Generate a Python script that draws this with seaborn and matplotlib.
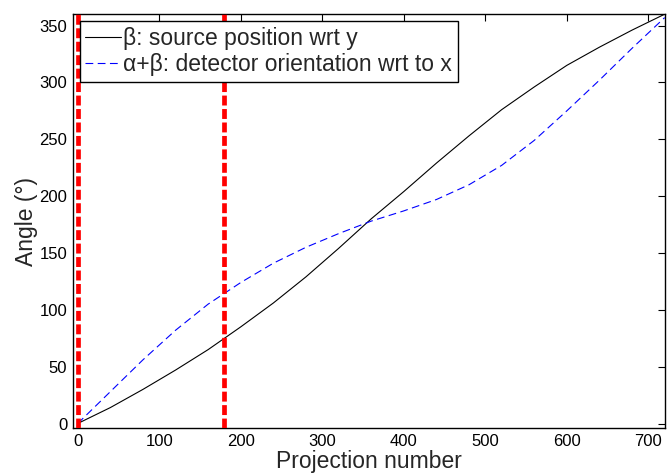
import matplotlib
matplotlib.use("Agg")
import matplotlib.pyplot as plt
import seaborn as sns
import pandas as pd

# Data
proj = [0, 40, 80, 120, 160, 200, 240, 280, 320, 360, 400, 440, 480, 520, 560, 600, 640, 680, 720]
beta = [0, 14, 30, 47, 65, 85, 106, 129, 154, 180, 204, 229, 253, 276, 296, 315, 331, 346, 360]
alpha_beta = [0, 28, 56, 82, 105, 124, 141, 155, 167, 178, 187, 197, 210, 227, 249, 275, 302, 330, 357]
vlines_x = [0, 180]
xticks = [0, 100, 200, 300, 400, 500, 600, 700]
yticks = [0, 50, 100, 150, 200, 250, 300, 350]

sns.set_theme(style="white")
plt.rcParams['font.family'] = ['Liberation Sans', 'DejaVu Sans']

fig = plt.figure(figsize=(6.68, 4.73), dpi=100)
ax = fig.add_axes([0.109, 0.095, 0.886, 0.875])

df_b = pd.DataFrame({"x": proj, "y": beta})
df_ab = pd.DataFrame({"x": proj, "y": alpha_beta})

sns.lineplot(data=df_b, x="x", y="y", ax=ax, color="black", linewidth=0.8,
             label="β: source position wrt y", zorder=3)
sns.lineplot(data=df_ab, x="x", y="y", ax=ax, color="#0000ff", linewidth=0.8,
             label="α+β: detector orientation wrt to x", zorder=3)
ax.lines[1].set_linestyle((0, (7, 4)))

for xv in vlines_x:
    ax.axvline(xv, color="#ff0000", linewidth=3.4, linestyle=(0, (2.1, 0.75)), zorder=4)

ax.set_xlim(-6, 720)
ax.set_ylim(-4, 360)
ax.set_xticks(xticks)
ax.set_yticks(yticks)
ax.set_xlabel("Projection number", fontsize=16.5, labelpad=1)
ax.set_ylabel("Angle (°)", fontsize=16.5, labelpad=1)
ax.tick_params(direction="in", length=5, width=0.8, top=True, right=True,
               labelsize=12, colors="black", pad=4)
for s in ax.spines.values():
    s.set_color("black")
    s.set_linewidth(1.0)

leg = ax.legend(loc="upper left", fontsize=16.5, frameon=True, fancybox=False,
                edgecolor="black", framealpha=1, borderpad=0.25, handlelength=1.55,
                handletextpad=0.1, labelspacing=0.15, borderaxespad=0.3)
leg.get_frame().set_linewidth(1.0)
leg.set_zorder(10)
leg.get_lines()[1].set_linestyle((0, (7, 4)))

fig.savefig("out.png", dpi=100)
